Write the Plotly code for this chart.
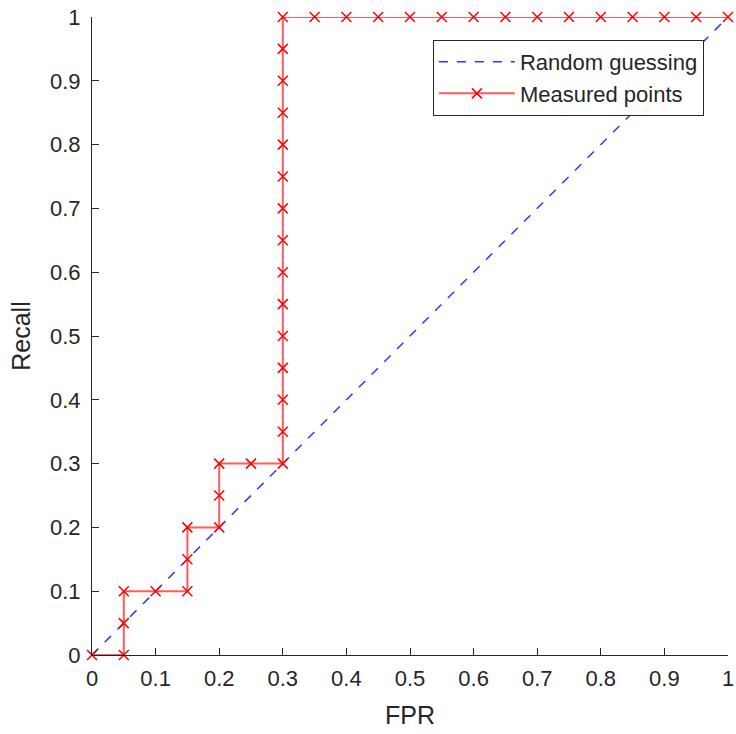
import plotly.graph_objects as go

fpr = [0, 0.05, 0.05, 0.05, 0.1, 0.15, 0.15, 0.15, 0.2, 0.2, 0.2, 0.25, 0.3,
       0.3, 0.3, 0.3, 0.3, 0.3, 0.3, 0.3, 0.3, 0.3, 0.3, 0.3, 0.3, 0.3, 0.3,
       0.35, 0.4, 0.45, 0.5, 0.55, 0.6, 0.65, 0.7, 0.75, 0.8, 0.85, 0.9, 0.95, 1.0]
recall = [0, 0, 0.05, 0.1, 0.1, 0.1, 0.15, 0.2, 0.2, 0.25, 0.3, 0.3, 0.3,
          0.35, 0.4, 0.45, 0.5, 0.55, 0.6, 0.65, 0.7, 0.75, 0.8, 0.85, 0.9, 0.95, 1.0,
          1, 1, 1, 1, 1, 1, 1, 1, 1, 1, 1, 1, 1, 1]
rand_x = [0, 1]
rand_y = [0, 1]
ticks = [0, 0.1, 0.2, 0.3, 0.4, 0.5, 0.6, 0.7, 0.8, 0.9, 1]
tick_text = ["0", "0.1", "0.2", "0.3", "0.4", "0.5", "0.6", "0.7", "0.8", "0.9", "1"]

fig = go.Figure()
fig.add_trace(go.Scatter(x=rand_x, y=rand_y, mode="lines", name="Random guessing",
                         line=dict(color="#3333ff", width=1.5, dash="dash"), cliponaxis=False))
fig.add_trace(go.Scatter(x=fpr, y=recall, mode="lines+markers", name="Measured points",
                         line=dict(color="rgba(255,50,50,0.8)", width=2),
                         marker=dict(symbol="x-thin", size=10, color="red",
                                     line=dict(color="red", width=1.5)),
                         cliponaxis=False))

font = "Liberation Sans, Arial, sans-serif"
axis_common = dict(range=[0, 1], tickvals=ticks, ticktext=tick_text, ticks="inside",
                   ticklen=7, tickcolor="#262626", showline=True, linecolor="#262626",
                   linewidth=1, showgrid=False, zeroline=False, mirror=False,
                   automargin=False,
                   tickfont=dict(family=font, size=22, color="#262626"))
fig.update_xaxes(**axis_common, ticklabelstandoff=4,
                 title=dict(text="FPR", font=dict(family=font, size=25, color="#262626"), standoff=16))
fig.update_yaxes(**axis_common, ticklabelstandoff=6,
                 title=dict(text="Recall", font=dict(family=font, size=25, color="#262626"), standoff=12))

fig.update_layout(width=736, height=734, plot_bgcolor="white", paper_bgcolor="white",
                  margin=dict(l=92, r=8, t=17, b=79),
                  legend=dict(x=0.536, y=0.964, xanchor="left", yanchor="top",
                              bordercolor="#262626", borderwidth=1, bgcolor="white",
                              font=dict(family=font, size=22, color="#262626"),
                              tracegroupgap=0, itemwidth=76))
fig.write_html("out.html", config={"displayModeBar": False},
               post_script="document.body.style.margin='0';document.body.style.overflow='hidden';")
